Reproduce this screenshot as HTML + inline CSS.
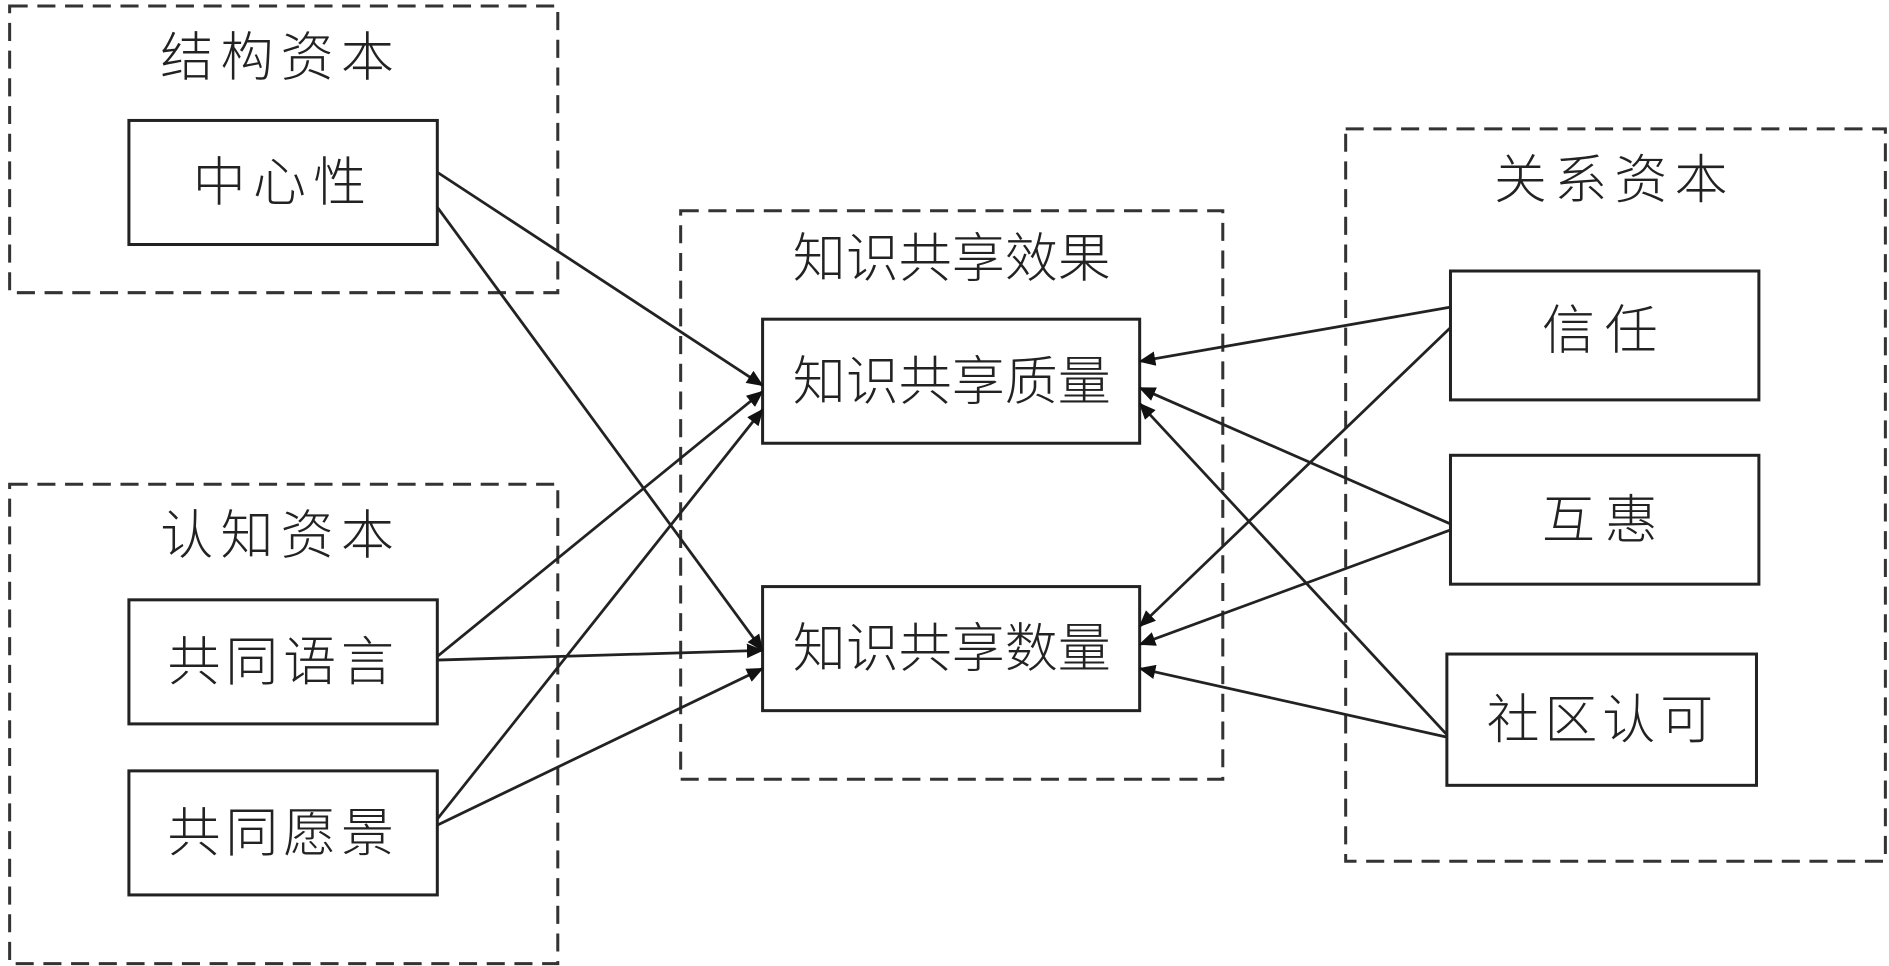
<!DOCTYPE html>
<html><head><meta charset="utf-8"><style>
html,body{margin:0;padding:0;background:#fff;}
svg{display:block;}
text{font-family:"Liberation Sans","Noto Sans CJK SC",sans-serif;font-weight:300;font-size:44px;fill:#222;text-anchor:middle;dominant-baseline:central;}
</style></head><body>
<svg width="1889" height="966" viewBox="0 0 1568 802" preserveAspectRatio="none">
<defs><marker id="a" markerWidth="14" markerHeight="12" refX="13" refY="6" orient="auto" markerUnits="userSpaceOnUse"><path d="M0,0 L14,6 L0,12 Z" fill="#111"/></marker></defs>
<g fill="none" stroke="#333" stroke-width="2.5" stroke-dasharray="15 8">
<rect x="8" y="5" width="455" height="238"/>
<rect x="8" y="402" width="455" height="398"/>
<rect x="565" y="175" width="450" height="472"/>
<rect x="1117" y="107" width="448" height="608"/>
</g>
<g fill="#fff" stroke="#222" stroke-width="2.5">
<rect x="107" y="100" width="256" height="103"/>
<rect x="107" y="498" width="256" height="103"/>
<rect x="107" y="640" width="256" height="103"/>
<rect x="633" y="265" width="313" height="103"/>
<rect x="633" y="487" width="313" height="103"/>
<rect x="1204" y="225" width="256" height="107"/>
<rect x="1204" y="378" width="256" height="107"/>
<rect x="1201" y="543" width="257" height="109"/>
</g>
<g stroke="#222" stroke-width="2.3" marker-end="url(#a)">
<line x1="363" y1="143" x2="633" y2="320"/>
<line x1="363" y1="172" x2="633" y2="540"/>
<line x1="363" y1="545" x2="633" y2="325"/>
<line x1="363" y1="548" x2="633" y2="540"/>
<line x1="363" y1="680" x2="633" y2="340"/>
<line x1="363" y1="685" x2="633" y2="555"/>
<line x1="1204" y1="255" x2="946" y2="300"/>
<line x1="1204" y1="272" x2="946" y2="520"/>
<line x1="1204" y1="435" x2="946" y2="322"/>
<line x1="1204" y1="440" x2="946" y2="535"/>
<line x1="1201" y1="610" x2="946" y2="335"/>
<line x1="1201" y1="612" x2="946" y2="555"/>
</g>
<text x="233" y="48" letter-spacing="6">结构资本</text>
<text x="233" y="445" letter-spacing="6">认知资本</text>
<text x="790" y="215">知识共享效果</text>
<text x="1340" y="150" letter-spacing="6">关系资本</text>
<text x="235" y="152" letter-spacing="6">中心性</text>
<text x="235" y="550" letter-spacing="4">共同语言</text>
<text x="235" y="692" letter-spacing="4">共同愿景</text>
<text x="790" y="317">知识共享质量</text>
<text x="790" y="539">知识共享数量</text>
<text x="1332" y="275" letter-spacing="8">信任</text>
<text x="1332" y="432" letter-spacing="8">互惠</text>
<text x="1330" y="598" letter-spacing="4">社区认可</text>
</svg>
</body></html>
